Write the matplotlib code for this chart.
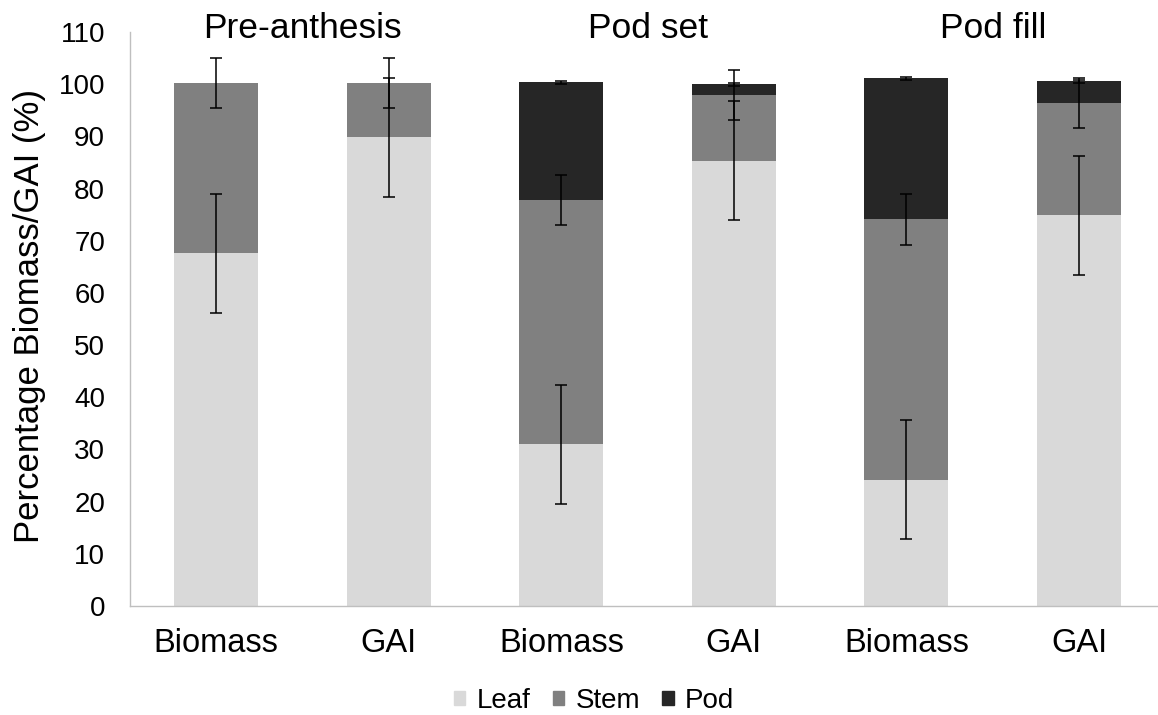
"""
Partitioning of biomass and green area index between leaf, stem and pod
at three growth stages
"""
import numpy as np
import matplotlib
matplotlib.use('Agg')
import matplotlib.pyplot as plt
from matplotlib.patches import Patch

stages = ["Pre-anthesis", "Pod set", "Pod fill"]
measures = ["Biomass", "GAI", "Biomass", "GAI", "Biomass", "GAI"]

leaf = [67.6, 89.8, 31.0, 85.3, 24.2, 74.9]
stem = [32.6, 10.4, 46.8, 12.6, 49.9, 21.5]
pod = [0.0, 0.0, 22.6, 2.1, 27.0, 4.2]

leaf_err = [11.4, 11.4, 11.4, 11.4, 11.4, 11.4]
stem_err = [4.85, 4.85, 4.85, 4.85, 4.85, 4.85]
pod_err = [0.0, 0.0, 0.3, 0.3, 0.3, 0.3]

colors = {'Leaf': '#d9d9d9', 'Stem': '#808080', 'Pod': '#262626'}

plt.rcParams['font.family'] = ['Liberation Sans', 'DejaVu Sans']


def plot_partitioning():
    fig = plt.figure(figsize=(11.58, 7.15), dpi=100)
    ax = fig.add_axes([0.1123, 0.1524, 0.8877, 0.8028])

    x = np.arange(len(measures))
    leaf_a = np.array(leaf)
    stem_a = np.array(stem)
    pod_a = np.array(pod)
    w = 0.487

    ax.bar(x, leaf_a, w, color=colors['Leaf'], zorder=2)
    ax.bar(x, stem_a, w, bottom=leaf_a, color=colors['Stem'], zorder=2)
    ax.bar(x, pod_a, w, bottom=leaf_a + stem_a, color=colors['Pod'], zorder=2)

    ekw = dict(fmt='none', ecolor='black', elinewidth=1.1, capsize=4.3,
               capthick=1.1, zorder=3)
    ax.errorbar(x, leaf_a, yerr=leaf_err, **ekw)
    ax.errorbar(x, leaf_a + stem_a, yerr=stem_err, **ekw)
    has_pod = pod_a > 0
    ax.errorbar(x[has_pod], (leaf_a + stem_a + pod_a)[has_pod],
                yerr=np.array(pod_err)[has_pod], **ekw)

    ax.set_xlim(-0.5, 5.458)
    ax.set_ylim(0, 110)
    ax.set_yticks(np.arange(0, 111, 10))
    ax.set_xticks(x)
    ax.set_xticklabels(measures)
    ax.tick_params(axis='x', length=0, pad=16, labelsize=23.5)
    ax.tick_params(axis='y', length=0, pad=18, labelsize=20)

    for side in ['top', 'right']:
        ax.spines[side].set_visible(False)
    for side in ['left', 'bottom']:
        ax.spines[side].set_color('#bfbfbf')
        ax.spines[side].set_linewidth(1.0)

    for i, s in enumerate(stages):
        ax.text(2 * i + 0.5, 108.9, s, ha='center', va='baseline',
                fontsize=25.5, clip_on=False)

    fig.text(30 / 1158, 1 - 316 / 715, "Percentage Biomass/GAI (%)",
             rotation=90, ha='center', va='center', fontsize=25)

    handles = [Patch(color=c, label=k) for k, c in colors.items()]
    fig.legend(handles=handles, loc='center', ncol=3,
               bbox_to_anchor=(594 / 1158, 1 - 701 / 715), frameon=False,
               fontsize=20, handlelength=0.42, handleheight=0.42,
               handletextpad=0.4, columnspacing=0.8, borderpad=0.1)

    fig.savefig('out.png', dpi=100)


def main():
    plot_partitioning()


if __name__ == "__main__":
    main()
